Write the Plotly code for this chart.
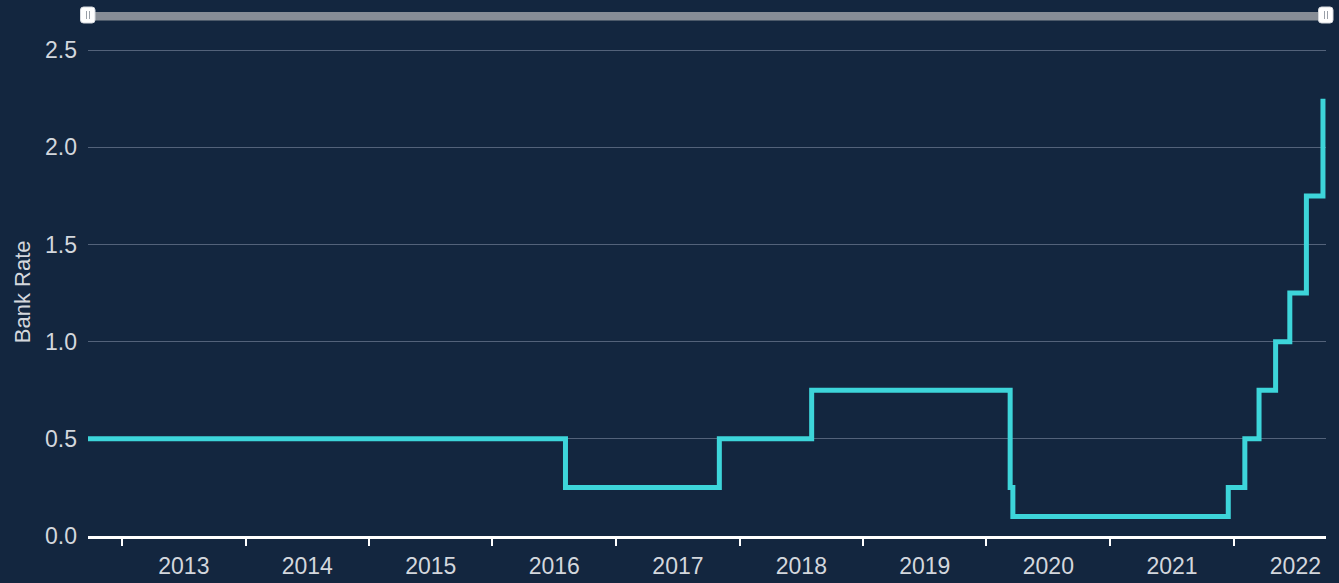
import plotly.graph_objects as go

# Bank Rate change dates and values (step series)
dates = [
    "2012-09-22", "2016-08-04", "2017-11-02", "2018-08-02", "2020-03-11",
    "2020-03-19", "2021-12-16", "2022-02-03", "2022-03-17", "2022-05-05",
    "2022-06-16", "2022-08-04", "2022-09-22",
]
rates = [0.5, 0.25, 0.5, 0.75, 0.25, 0.1, 0.25, 0.5, 0.75, 1.0, 1.25, 1.75, 2.25]

y_ticks = [0.0, 0.5, 1.0, 1.5, 2.0, 2.5]
y_tick_labels = ["0.0", "0.5", "1.0", "1.5", "2.0", "2.5"]
y_title = "Bank Rate"

BG = "#13263f"
LINE = "#3dd5da"
TXT = "#d3d7dd"
GRID = "#53627a"
FS = 23

fig = go.Figure()
fig.add_trace(go.Scatter(
    x=dates, y=rates, mode="lines", line=dict(color=LINE, width=5, shape="hv"),
    hoverinfo="x+y", showlegend=False,
))


def rounded(x0, x1, y0, y1, r):
    return (f"M{x0+r},{y0} L{x1-r},{y0} Q{x1},{y0} {x1},{y0+r} L{x1},{y1-r} "
            f"Q{x1},{y1} {x1-r},{y1} L{x0+r},{y1} Q{x0},{y1} {x0},{y1-r} "
            f"L{x0},{y0+r} Q{x0},{y0} {x0+r},{y0} Z")


# navigator-like bar at top (decoration)
shapes = [
    dict(type="rect", xref="paper", yref="paper", x0=0, x1=1,
         ysizemode="pixel", yanchor=1, y0=1.5, y1=10,
         fillcolor="#878d96", line=dict(width=0), layer="above"),
]
for cx in (0.0, 1.0):
    shapes.append(dict(type="path", xref="paper", yref="paper",
                       xsizemode="pixel", xanchor=cx, ysizemode="pixel", yanchor=1,
                       path=rounded(-7.5, 7, -1, 15, 3),
                       fillcolor="#ffffff", line=dict(color="#d6d9de", width=1), layer="above"))
    for dx in (-1.5, 1.5):
        shapes.append(dict(type="line", xref="paper", yref="paper",
                           xsizemode="pixel", xanchor=cx, ysizemode="pixel", yanchor=1,
                           x0=dx, x1=dx, y0=3, y1=11,
                           line=dict(color="#9aa0a8", width=1), layer="above"))

fig.update_layout(
    width=1339, height=583,
    paper_bgcolor=BG, plot_bgcolor=BG,
    margin=dict(l=88, r=13, t=22, b=47),
    font=dict(family="Liberation Sans, Arial, sans-serif", color=TXT, size=FS),
    shapes=shapes,
    annotations=[dict(text=y_title, xref="paper", yref="paper", x=-0.053, y=0.475,
                      textangle=-90, showarrow=False, xanchor="center", yanchor="middle",
                      font=dict(size=FS - 1, color=TXT))],
    xaxis=dict(
        type="date", range=["2012-09-22", "2022-10-01"], automargin=False,
        dtick="M12", tick0="2013-01-01", tickformat="%Y", ticklabelmode="period",
        ticks="outside", ticklen=7, tickwidth=1.5, tickcolor="#ffffff",
        showgrid=False, showline=True, linecolor="#ffffff", linewidth=3,
        zeroline=False, tickfont=dict(size=FS, color=TXT),
    ),
    yaxis=dict(
        range=[0, 2.645], tickvals=y_ticks, ticktext=y_tick_labels, automargin=False,
        showgrid=True, gridcolor=GRID, gridwidth=1, zeroline=False,
        tickfont=dict(size=FS, color=TXT), ticks="", ticklabelstandoff=10,
    ),
)

fig.write_html("out.html", config={"displayModeBar": False},
               post_script="document.body.style.margin='0';")
